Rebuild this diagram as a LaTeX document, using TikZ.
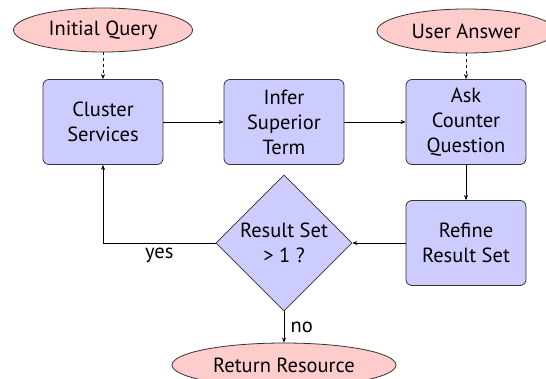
\documentclass[tikz,border=0pt]{standalone}
\usepackage{fontspec}
\setmainfont{PT Sans}
\usetikzlibrary{shapes.geometric,arrows.meta}
\begin{document}
\begin{tikzpicture}[x=1pt,y=-1pt,
  every node/.style={font=\fontsize{20.5}{25}\selectfont},
  block/.style={draw=black!80, fill=blue!20, rounded corners=6pt, minimum width=120pt, minimum height=85pt, align=center, inner sep=0pt, line width=0.8pt},
  terminal/.style={draw=black!80, fill=red!20, ellipse, minimum height=44pt, inner sep=0pt, line width=0.8pt},
  decision/.style={draw=black!80, fill=blue!20, diamond, minimum width=136pt, minimum height=136pt, inner sep=0pt, align=center, line width=0.8pt},
  conn/.style={-{Stealth[length=5pt,width=4pt]}, line width=0.6pt},
  dconn/.style={conn, dashed}]
\useasboundingbox (0,0) rectangle (546,378);
\node[terminal, minimum width=179pt] (iq) at (103,30) {Initial Query};
\node[terminal, minimum width=178pt] (ua) at (466,31) {User Answer};
\node[block] (cs) at (103,122) {Cluster\\Services};
\node[block] (ist) at (284,122) {Infer\\Superior\\Term};
\node[block] (acq) at (466,122) {Ask\\Counter\\Question};
\node[block] (rrs) at (466,243) {Refine\\Result Set};
\node[decision] (rs) at (284,243) {Result Set\\> 1 ?};
\node[terminal, minimum width=224pt] (rr) at (284,365) {Return Resource};
\coordinate (corner) at (cs.south |- rs.west);
\draw[dconn] (iq) -- (cs);
\draw[dconn] (ua) -- (acq);
\draw[conn] (cs) -- (ist);
\draw[conn] (ist) -- (acq);
\draw[conn] (acq) -- (rrs);
\draw[conn] (rrs) -- (rs);
\draw[conn] (rs.west) -- node[midway, below=1pt] (yes) {yes} (corner) -- (cs.south);
\draw[conn] (rs.south) -- node[midway, right=3pt] (no) {no} (rr.north);
\end{tikzpicture}
\end{document}
